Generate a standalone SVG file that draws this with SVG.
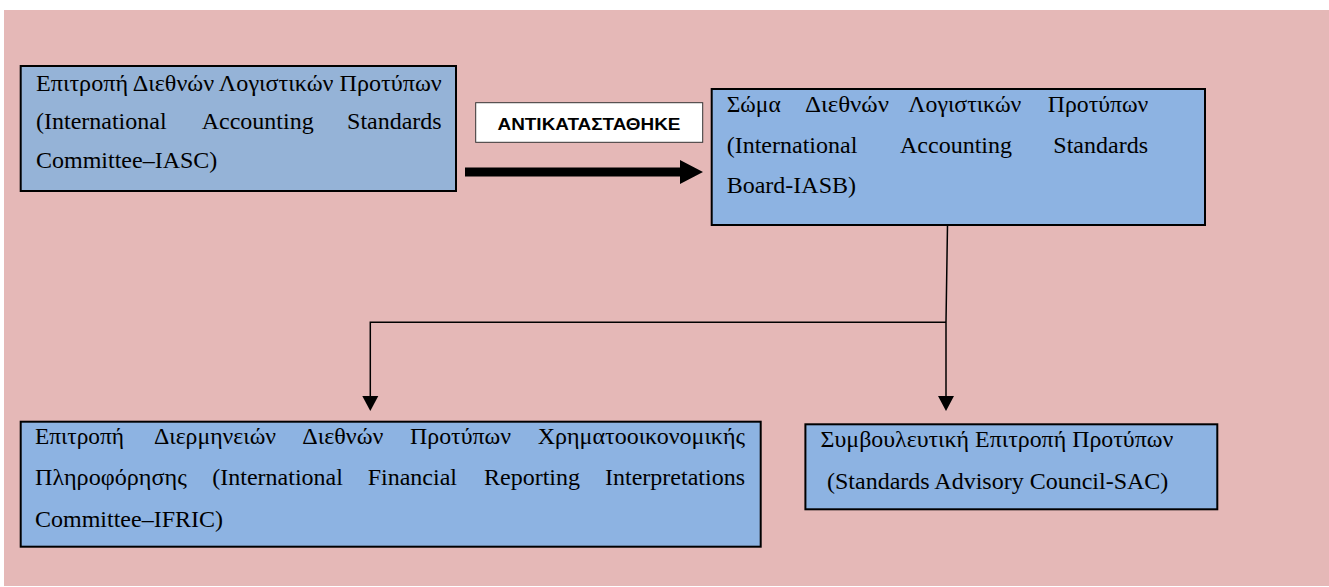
<svg xmlns="http://www.w3.org/2000/svg" width="1329" height="587" viewBox="0 0 1329 587">
<style>
.box{stroke:#000;stroke-width:2}
.b1{fill:#95B3D7}
.b2{fill:#8DB3E2}
.t{font-family:"Liberation Serif","Times New Roman",serif;font-size:24px;fill:#000}
.lbl{font-family:"Liberation Sans",Arial,sans-serif;font-size:16.5px;font-weight:bold;fill:#000}
.ln{fill:none;stroke:#000;stroke-width:1.5}
.ah{fill:#000}
</style>
<rect x="0" y="0" width="1329" height="587" fill="#FFFFFF"/>
<rect x="4" y="10" width="1325" height="576" fill="#E5B8B7"/>

<g id="connectors">
<polygon class="ah" points="465,167.5 680,167.5 680,160 703,172 680,184 680,176.5 465,176.5"/>
<path class="ln" d="M947.5 225 L946 322.3 L946 398"/>
<path class="ln" d="M946 322.3 H370.3 V398"/>
<polygon class="ah" points="938,396 954,396 946,411"/>
<polygon class="ah" points="362.3,396 378.3,396 370.3,411"/>
</g>

<g id="label-replaced">
<rect x="475.7" y="102.7" width="227" height="39.6" fill="#FFFFFF" stroke="#333" stroke-width="1"/>
<text class="lbl" x="497.5" y="129.8" textLength="183" lengthAdjust="spacingAndGlyphs">ΑΝΤΙΚΑΤΑΣΤΑΘΗΚΕ</text>
</g>

<g id="node-iasc">
<rect class="box b1" x="20.7" y="66" width="435.3" height="125"/>
<text class="t" x="36" y="90.7" textLength="405.7" lengthAdjust="spacingAndGlyphs">Επιτροπή Διεθνών Λογιστικών Προτύπων</text>
<text class="t" y="129.3"><tspan x="36">(International</tspan><tspan x="201.7">Accounting</tspan><tspan x="441.7" text-anchor="end">Standards</tspan></text>
<text class="t" x="36" y="168.3">Committee–IASC)</text>
</g>

<g id="node-iasb">
<rect class="box b2" x="711.7" y="89" width="493.3" height="136"/>
<text class="t" x="726.7" y="111.7" textLength="54" lengthAdjust="spacingAndGlyphs">Σώμα</text>
<text class="t" x="805" y="111.7" textLength="84" lengthAdjust="spacingAndGlyphs">Διεθνών</text>
<text class="t" x="908.3" y="111.7" textLength="113" lengthAdjust="spacingAndGlyphs">Λογιστικών</text>
<text class="t" x="1047.8" y="111.7" textLength="100.5" lengthAdjust="spacingAndGlyphs">Προτύπων</text>
<text class="t" y="153.3"><tspan x="726.7">(International</tspan><tspan x="900">Accounting</tspan><tspan x="1148" text-anchor="end">Standards</tspan></text>
<text class="t" x="726.7" y="193.3">Board-IASB)</text>
</g>

<g id="node-ifric">
<rect class="box b2" x="20.7" y="421.7" width="740" height="125"/>
<text class="t" x="35" y="444.3" textLength="89" lengthAdjust="spacingAndGlyphs">Επιτροπή</text>
<text class="t" x="154" y="444.3" textLength="122" lengthAdjust="spacingAndGlyphs">Διερμηνειών</text>
<text class="t" x="302.3" y="444.3" textLength="81" lengthAdjust="spacingAndGlyphs">Διεθνών</text>
<text class="t" x="410" y="444.3" textLength="101" lengthAdjust="spacingAndGlyphs">Προτύπων</text>
<text class="t" x="537.7" y="444.3" textLength="207.3" lengthAdjust="spacingAndGlyphs">Χρηματοοικονομικής</text>
<text class="t" x="35" y="485" textLength="151.7" lengthAdjust="spacingAndGlyphs">Πληροφόρησης</text>
<text class="t" y="485"><tspan x="212.3">(International</tspan><tspan x="367.7">Financial</tspan><tspan x="484">Reporting</tspan><tspan x="745" text-anchor="end">Interpretations</tspan></text>
<text class="t" x="35" y="526.7">Committee–IFRIC)</text>
</g>

<g id="node-sac">
<rect class="box b2" x="805.4" y="424.3" width="411.9" height="85"/>
<text class="t" x="820.6" y="446.7" textLength="352.7" lengthAdjust="spacingAndGlyphs">Συμβουλευτική Επιτροπή Προτύπων</text>
<text class="t" x="827" y="489">(Standards Advisory Council-SAC)</text>
</g>
</svg>
